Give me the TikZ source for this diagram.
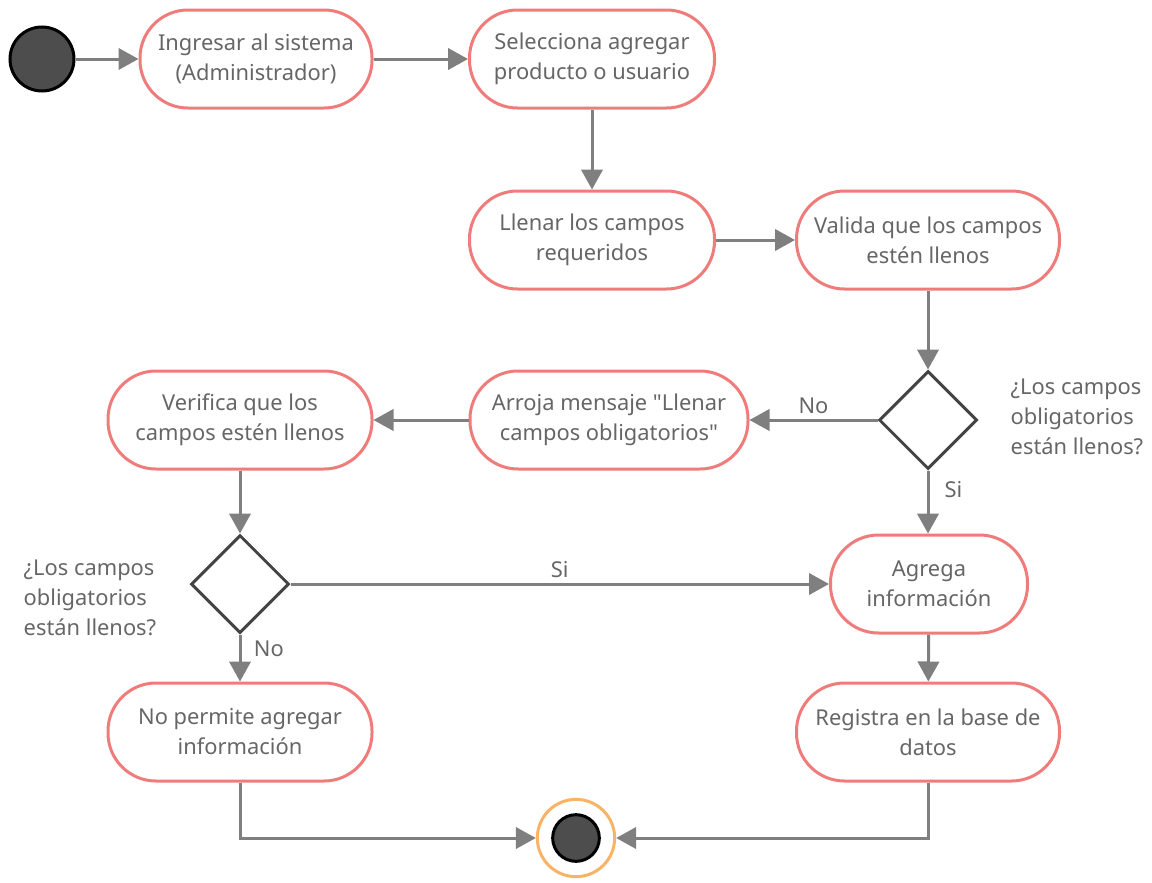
\documentclass[tikz,border=0pt]{standalone}
\usepackage{fontspec}
\newfontfamily\diagfont{Noto Sans}
\usetikzlibrary{arrows.meta,shapes.geometric}
\definecolor{edgegray}{HTML}{7F7F7F}
\definecolor{pillred}{HTML}{F07B7B}
\definecolor{txtgray}{HTML}{666666}
\definecolor{darkfill}{HTML}{4D4D4D}
\definecolor{ringorange}{HTML}{F8B366}
\definecolor{diamgray}{HTML}{444444}
\tikzset{
  pill/.style={draw=pillred, line width=2.25pt, fill=white, rounded corners=36pt,
    minimum height=73.5pt, align=center, text=txtgray, inner sep=2pt},
  decision/.style={draw=diamgray, line width=2.25pt, fill=white, diamond, aspect=1,
    minimum size=73.5pt, inner sep=0pt},
  flow/.style={draw=edgegray, line width=2.25pt, -{Triangle[length=15pt,width=16pt]}},
  lbl/.style={text=txtgray, font=\diagfont\fontsize{16.4pt}{22.5pt}\selectfont},
  note/.style={lbl, align=left, anchor=west}
}
\begin{document}
\begin{tikzpicture}[x=0.75pt, y=-0.75pt, font=\diagfont\fontsize{16.4pt}{22.5pt}\selectfont]
\useasboundingbox (0,0) rectangle (1152,882);
% start and end markers
\node[circle, draw=black, line width=2.25pt, fill=darkfill, minimum size=48pt, inner sep=0pt] (start) at (42,59) {};
\node[circle, draw=ringorange, line width=2.25pt, fill=white, minimum size=58pt, inner sep=0pt] (end) at (576,838) {};
\node[circle, draw=black, line width=2.25pt, fill=darkfill, minimum size=35pt, inner sep=0pt] (endcore) at (576,838) {};
% activities
\node[pill, minimum width=174pt] (n1) at (256,59) {Ingresar al sistema\\(Administrador)};
\node[pill, minimum width=183.75pt] (n2) at (592,59) {Selecciona agregar\\producto o usuario};
\node[pill, minimum width=183.75pt] (n3) at (592,240) {Llenar los campos\\requeridos};
\node[pill, minimum width=197.25pt] (n4) at (928,240) {Valida que los campos\\estén llenos};
\node[decision] (d1) at (928,420) {};
\node[note] (q1) at (1006,417) {¿Los campos\\obligatorios\\están llenos?};
\node[pill, minimum width=208.5pt] (n5) at (609,420) {Arroja mensaje "Llenar\\campos obligatorios"};
\node[pill, minimum width=198pt] (n6) at (240,420) {Verifica que los\\campos estén llenos};
\node[pill, minimum width=147.75pt] (n7) at (929,584) {Agrega\\información};
\node[decision] (d2) at (240,584) {};
\node[note] (q2) at (19,598) {¿Los campos\\obligatorios\\están llenos?};
\node[pill, minimum width=198pt] (n8) at (240,732) {No permite agregar\\información};
\node[pill, minimum width=197.25pt] (n9) at (928,732) {Registra en la base de\\datos};
% connectors
\draw[flow] (start) -- (n1);
\draw[flow] (n1) -- (n2);
\draw[flow] (n2) -- (n3);
\draw[flow] (n3) -- (n4);
\draw[flow] (n4.south) -- (d1.north);
\draw[flow] (d1.west) -- node[lbl, above, pos=0.5] {No} (n5.east);
\draw[flow] (d1.south) -- node[lbl, right, pos=0.3, xshift=8pt] {Si} (d1.south |- n7.north);
\draw[flow] (n5) -- (n6);
\draw[flow] (n6.south) -- (d2.north);
\draw[flow] (d2.east) -- node[lbl, above] {Si} (n7.west);
\draw[flow] (d2.south) -- node[lbl, right, pos=0.3, xshift=6pt] {No} (n8.north);
\draw[flow] (n7) -- (n9);
\draw[flow] (n8.south) |- (end.west);
\draw[flow] (n9.south) |- (end.east);
\end{tikzpicture}
\end{document}
